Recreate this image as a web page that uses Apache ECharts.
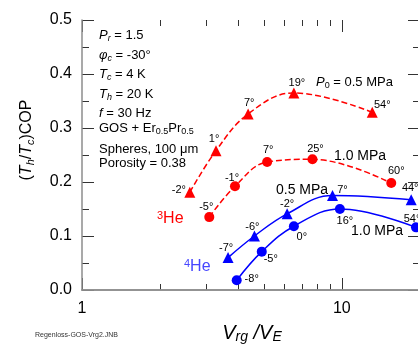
<!DOCTYPE html>
<html>
<head>
<meta charset="utf-8">
<script src="https://cdn.jsdelivr.net/npm/echarts@6/dist/echarts.min.js"></script>
<style>
html, body { margin: 0; padding: 0; background: #fff; }
#fig_cop { width: 418px; height: 347px; }
</style>
</head>
<body>
<div id="fig_cop"></div>
<script>
// 3He, P0 = 0.5 MPa
var he3_05_x = [2.60, 3.28, 4.36, 6.54, 13.1];
var he3_05_y = [0.181, 0.258, 0.326, 0.365, 0.329];
var he3_05_ang = ['-2°', '1°', '7°', '19°', '54°'];
// 3He, 1.0 MPa
var he3_10_x = [3.09, 3.88, 5.16, 7.71, 15.5];
var he3_10_y = [0.135, 0.192, 0.237, 0.242, 0.198];
var he3_10_ang = ['-5°', '-1°', '7°', '25°', '60°'];
// 4He, 0.5 MPa
var he4_05_x = [3.65, 4.61, 6.16, 9.21, 18.5];
var he4_05_y = [0.060, 0.100, 0.141, 0.175, 0.167];
var he4_05_ang = ['-7°', '-6°', '-2°', '7°', '44°'];
// 4He, 1.0 MPa
var he4_10_x = [3.94, 4.92, 6.54, 9.83, 19.3];
var he4_10_y = [0.018, 0.071, 0.118, 0.150, 0.116];
var he4_10_ang = ['-8°', '-5°', '0°', '16°', '54°'];

// tick values
var x_labels = [1, 10];
var x_major = [1, 10];
var x_minor = [2, 3, 4, 5, 6, 7, 8, 9, 20];
var y_major = [0, 0.1, 0.2, 0.3, 0.4, 0.5];
var y_minor = [0.05, 0.15, 0.25, 0.35, 0.45];

// label offsets from the marker centre (pixels)
var off_he3_05 = [[-11, -2], [-2, -12], [1, -11], [3, -10], [10, -7]];
var off_he3_10 = [[-3, -10], [-3, -8], [1, -12], [3, -10], [5, -12]];
var off_he4_05 = [[-2, -10], [-2, -9], [0, -10], [10, -6], [-1, -12]];
var off_he4_10 = [[15, -1], [9, 7], [8, 11], [5, 12], [-4, -8]];

var FONT = 'Liberation Sans, Arial, sans-serif';
var RED = '#ff0000';
var BLUE = '#0000ff';
var TICK = '#333';

function makeData(xs, ys, angs, offs) {
    var out = [];
    for (var i = 0; i < xs.length; i++) {
        out.push({
            value: [xs[i], ys[i]],
            label: { formatter: angs[i], offset: offs[i] }
        });
    }
    return out;
}

function makeSeries(name, xs, ys, angs, offs, color, symbol, dashed) {
    return {
        name: name,
        type: 'line',
        smooth: 0.4,
        symbol: symbol,
        symbolSize: symbol === 'triangle' ? 11 : 10,
        itemStyle: { color: color },
        lineStyle: { color: color, width: 1.5, type: dashed ? [6, 3] : 'solid' },
        label: {
            show: true,
            position: 'inside',
            color: '#000',
            fontFamily: FONT,
            fontSize: 11
        },
        emphasis: { disabled: true },
        data: makeData(xs, ys, angs, offs),
        z: 3
    };
}

function rich(size, subSize) {
    return {
        n: { fontFamily: FONT, fontSize: size, lineHeight: size + 3, fill: '#000' },
        i: { fontFamily: FONT, fontSize: size, fontStyle: 'italic', lineHeight: size + 3, fill: '#000' },
        s: { fontFamily: FONT, fontSize: subSize, lineHeight: subSize - 2, verticalAlign: 'bottom', fill: '#000' },
        si: { fontFamily: FONT, fontSize: subSize, fontStyle: 'italic', lineHeight: subSize - 2, verticalAlign: 'bottom', fill: '#000' }
    };
}

var paramLines = [
    '{i|P}{si|r}{n| = 1.5}',
    '{i|φ}{si|c}{n| = -30°}',
    '{i|T}{si|c}{n| = 4 K}',
    '{i|T}{si|h}{n| = 20 K}',
    '{i|f}{n| = 30 Hz}',
    '{n|GOS + Er}{s|0.5}{n|Pr}{s|0.5}',
    '{n|Spheres, 100 μm}',
    '{n|Porosity = 0.38}'
];
var paramY = [35, 55, 74, 94, 113, 128, 149, 163];

var graphics = [];
for (var k = 0; k < paramLines.length; k++) {
    graphics.push({
        type: 'text', x: 99, y: paramY[k],
        style: { text: paramLines[k], rich: rich(13, 9), align: 'left', verticalAlign: 'middle' }
    });
}
graphics.push(
    { type: 'text', x: 316, y: 82,
      style: { text: '{i|P}{s|0}{n| = 0.5 MPa}', rich: rich(13, 9), align: 'left', verticalAlign: 'middle' } },
    { type: 'text', x: 334, y: 156,
      style: { text: '1.0 MPa', fontFamily: FONT, fontSize: 14, fill: '#000', align: 'left', verticalAlign: 'middle' } },
    { type: 'text', x: 276, y: 190,
      style: { text: '0.5 MPa', fontFamily: FONT, fontSize: 14, fill: '#000', align: 'left', verticalAlign: 'middle' } },
    { type: 'text', x: 351, y: 231,
      style: { text: '1.0 MPa', fontFamily: FONT, fontSize: 14, fill: '#000', align: 'left', verticalAlign: 'middle' } },
    { type: 'text', x: 157, y: 219,
      style: {
          text: '{p|3}{h|He}', align: 'left', verticalAlign: 'middle',
          rich: {
              p: { fontFamily: FONT, fontSize: 11, lineHeight: 10, verticalAlign: 'top', fill: RED },
              h: { fontFamily: FONT, fontSize: 16, lineHeight: 18, fill: RED }
          }
      } },
    { type: 'text', x: 184, y: 267,
      style: {
          text: '{p|4}{h|He}', align: 'left', verticalAlign: 'middle',
          rich: {
              p: { fontFamily: FONT, fontSize: 11, lineHeight: 10, verticalAlign: 'top', fill: '#4646ff' },
              h: { fontFamily: FONT, fontSize: 16, lineHeight: 18, fill: '#4646ff' }
          }
      } },
    { type: 'text', x: 27, y: 140, rotation: Math.PI / 2,
      style: {
          text: '{n|(}{i|T}{si|h}{n|/}{i|T}{si|c}{n|)COP}', rich: rich(16, 11),
          align: 'center', verticalAlign: 'middle'
      } },
    { type: 'text', x: 252, y: 333,
      style: {
          text: '{i|V}{si|rg}{i| /V}{si|E}', rich: rich(20, 14),
          align: 'center', verticalAlign: 'middle'
      } },
    { type: 'text', x: 35, y: 335,
      style: { text: 'Regenloss-GOS-Vrg2.JNB', fontFamily: FONT, fontSize: 7, fill: '#333', align: 'left', verticalAlign: 'middle' } }
);

var frameLine = { show: true, lineStyle: { color: '#8c8c8c', width: 1.5 } };

var option = {
    backgroundColor: '#fff',
    animation: false,
    grid: {
        left: 82,
        right: -2,
        top: 20,
        bottom: 57,
        outerBoundsMode: 'none'
    },
    xAxis: [{
        type: 'log',
        min: 1,
        max: 20,
        position: 'bottom',
        axisLine: frameLine,
        axisTick: { show: false },
        minorTick: { show: false },
        splitLine: { show: false },
        axisLabel: {
            margin: 11, fontFamily: FONT, fontSize: 16, color: '#000',
            formatter: function (v) { return x_labels.indexOf(v) >= 0 ? String(v) : ''; }
        }
    }, {
        type: 'log',
        min: 1,
        max: 20,
        position: 'top',
        axisLine: frameLine,
        axisTick: { show: false },
        splitLine: { show: false },
        axisLabel: { show: false }
    }],
    yAxis: [{
        type: 'value',
        min: 0,
        max: 0.5,
        interval: 0.1,
        position: 'left',
        axisLine: frameLine,
        axisTick: { show: false },
        splitLine: { show: false },
        axisLabel: {
            margin: 10, fontFamily: FONT, fontSize: 16, color: '#000',
            formatter: function (v) { return v.toFixed(1); }
        }
    }, {
        type: 'value',
        min: 0,
        max: 0.5,
        interval: 0.1,
        position: 'right',
        axisLine: frameLine,
        axisTick: { show: false },
        splitLine: { show: false },
        axisLabel: { show: false }
    }],
    series: [
        makeSeries('3He 0.5 MPa', he3_05_x, he3_05_y, he3_05_ang, off_he3_05, RED, 'triangle', true),
        makeSeries('3He 1.0 MPa', he3_10_x, he3_10_y, he3_10_ang, off_he3_10, RED, 'circle', true),
        makeSeries('4He 0.5 MPa', he4_05_x, he4_05_y, he4_05_ang, off_he4_05, BLUE, 'triangle', false),
        makeSeries('4He 1.0 MPa', he4_10_x, he4_10_y, he4_10_ang, off_he4_10, BLUE, 'circle', false)
    ]
};

var chart = echarts.init(document.getElementById('fig_cop'));
chart.setOption(option);

// inward ticks on all four sides, placed through the chart's own scales
function px(x, y) { return chart.convertToPixel({ gridIndex: 0 }, [x, y]); }
var lo = px(1, 0), hi = px(20, 0.5);
var xl = lo[0], xr = hi[0], yb = lo[1], yt = hi[1];
var tickStyle = { stroke: TICK, lineWidth: 1 };
function addXTicks(vals, len) {
    vals.forEach(function (v) {
        var x = Math.round(px(v, 0)[0]) + 0.5;
        graphics.push({ type: 'line', silent: true, shape: { x1: x, y1: yb, x2: x, y2: yb - len }, style: tickStyle });
        graphics.push({ type: 'line', silent: true, shape: { x1: x, y1: yt, x2: x, y2: yt + len }, style: tickStyle });
    });
}
function addYTicks(vals, len) {
    vals.forEach(function (v) {
        var y = Math.round(px(1, v)[1]) + 0.5;
        graphics.push({ type: 'line', silent: true, shape: { x1: xl, y1: y, x2: xl + len, y2: y }, style: tickStyle });
        graphics.push({ type: 'line', silent: true, shape: { x1: xr, y1: y, x2: xr - len, y2: y }, style: tickStyle });
    });
}
addXTicks(x_major, 12);
addXTicks(x_minor, 6);
addYTicks(y_major, 12);
addYTicks(y_minor, 7);

chart.setOption({ graphic: graphics });
</script>
</body>
</html>
